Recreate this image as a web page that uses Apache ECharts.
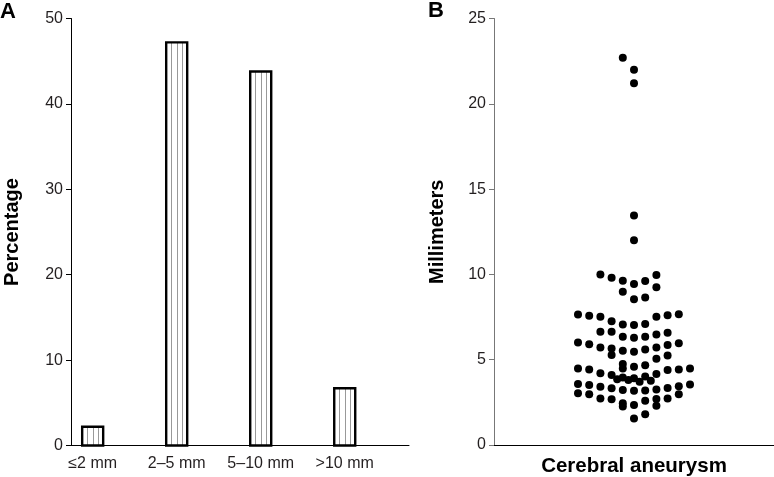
<!DOCTYPE html>
<html>
<head>
<meta charset="utf-8">
<script src="https://cdn.jsdelivr.net/npm/echarts@6/dist/echarts.min.js"></script>
<style>
html,body{margin:0;padding:0;background:#fff;}
#chart{width:774px;height:477px;}
</style>
</head>
<body>
<div id="chart"></div>
<script>
// Panel A: size-category distribution (percentage)
var sizeCategories = ['\u22642 mm', '2\u20135 mm', '5\u201310 mm', '>10 mm'];
var percentages = [2.2, 47.2, 43.8, 6.7];
var percentTicks = [0, 10, 20, 30, 40, 50];

// Panel B: individual aneurysm sizes (mm) with beeswarm column offsets
var swarmOffsets = [
  -1, 0, 0, 0, 0,
  -3, -2, -1, 0, 1, 2, 2, -1, 0, 1,
  -5, -4, -3, -2, -1, 0, 1, 2, 3, 4,
  -3, -2, -1, 0, 1, 2, 3,
  -5, -4, -3, -2, -2, -1, 0, 1, 2, 2, 3, 3, 4,
  -5, -4, -3, -2, -1, -1, 0, 1, 2, 3, 4, 5,
  -1.5, -1, -0.5, 0, 0.5, 1, 1.5,
  -5, -4, -3, -2, -1, 0, 1, 2, 3, 4, 5,
  -5, -4, -3, -2, -1, -1, 0, 1, 2, 2, 3, 4,
  0, 1
];
var sizesMm = [
  22.7, 22.0, 21.2, 13.45, 12.0,
  10.0, 9.8, 9.63, 9.43, 9.61, 9.96, 9.24, 8.98, 8.55, 8.65,
  7.65, 7.58, 7.52, 7.26, 7.07, 7.03, 7.09, 7.52, 7.61, 7.67,
  6.64, 6.64, 6.35, 6.29, 6.35, 6.48, 6.58,
  6.01, 5.90, 5.72, 5.66, 5.27, 5.53, 5.47, 5.60, 5.72, 5.06, 5.86, 5.25, 5.96,
  4.49, 4.43, 4.20, 4.10, 4.75, 4.49, 4.59, 4.67, 4.16, 4.39, 4.43, 4.49,
  3.85, 3.96, 3.81, 3.91, 3.71, 4.02, 3.77,
  3.57, 3.51, 3.42, 3.32, 3.22, 3.18, 3.20, 3.26, 3.34, 3.44, 3.55,
  3.03, 2.97, 2.73, 2.68, 2.44, 2.25, 2.34, 2.60, 2.69, 2.30, 2.73, 2.97,
  1.56, 1.80
];
var mmTicks = [0, 5, 10, 15, 20, 25];

var barData = percentages.map(function (v, i) { return [i, v]; });
var dotData = sizesMm.map(function (v, i) { return [swarmOffsets[i], v]; });

var textColor = '#231f20';
var fontFam = '"Liberation Sans", Arial, sans-serif';

var chart = echarts.init(document.getElementById('chart'), null, {renderer: 'canvas'});
chart.setOption({
  animation: false,
  backgroundColor: '#fff',
  textStyle: {fontFamily: fontFam},
  graphic: [
    {type: 'text', left: 0, top: 1, style: {text: 'A', font: 'bold 22px ' + fontFam, fill: '#000'}},
    {type: 'text', left: 428, top: 0, style: {text: 'B', font: 'bold 22px ' + fontFam, fill: '#000'}}
  ],
  grid: [
    {left: 71, right: 365, top: 18.5, bottom: 31.5, outerBoundsMode: 'none', containLabel: false},
    {left: 494, right: 0, top: 18.5, bottom: 32, outerBoundsMode: 'none', containLabel: false}
  ],
  xAxis: [
    {
      gridIndex: 0, type: 'value', min: -0.258, max: 3.765,
      splitLine: {show: false},
      axisLine: {show: true, onZero: false, lineStyle: {color: '#000', width: 1}},
      axisTick: {show: false},
      axisLabel: {
        customValues: [0, 1, 2, 3],
        formatter: function (v) { return sizeCategories[Math.round(v)]; },
        color: textColor, fontSize: 16, margin: 10, fontFamily: fontFam
      }
    },
    {
      gridIndex: 1, type: 'value', min: -12.5, max: 12.5,
      splitLine: {show: false},
      axisLine: {show: true, onZero: false, lineStyle: {color: '#000', width: 1}},
      axisTick: {show: false},
      axisLabel: {show: false},
      name: 'Cerebral aneurysm', nameLocation: 'middle', nameGap: 11,
      nameTextStyle: {fontSize: 20.5, fontWeight: 'bold', color: '#000', fontFamily: fontFam, verticalAlign: 'top'}
    }
  ],
  yAxis: [
    {
      gridIndex: 0, type: 'value', min: 0, max: 50, interval: 10,
      splitLine: {show: false},
      axisLine: {show: true, onZero: false, lineStyle: {color: '#000', width: 1}},
      axisTick: {show: true, length: 5, lineStyle: {color: '#000'}},
      axisLabel: {
        customValues: percentTicks,
        color: textColor, fontSize: 16, margin: 8, fontFamily: fontFam
      },
      name: 'Percentage', nameLocation: 'middle', nameGap: 49,
      nameTextStyle: {fontSize: 20, fontWeight: 'bold', color: '#000', fontFamily: fontFam}
    },
    {
      gridIndex: 1, type: 'value', min: 0, max: 25, interval: 5,
      splitLine: {show: false},
      axisLine: {show: true, onZero: false, lineStyle: {color: '#777', width: 1}},
      axisTick: {show: true, length: 5, lineStyle: {color: '#777'}},
      axisLabel: {
        customValues: mmTicks,
        color: textColor, fontSize: 16, margin: 8, fontFamily: fontFam
      },
      name: 'Millimeters', nameLocation: 'middle', nameGap: 47,
      nameTextStyle: {fontSize: 20, fontWeight: 'bold', color: '#000', fontFamily: fontFam}
    }
  ],
  series: [
    {
      type: 'custom', xAxisIndex: 0, yAxisIndex: 0,
      data: barData,
      renderItem: function (params, api) {
        var base = api.coord([api.value(0), 0]);
        var top = api.coord([api.value(0), api.value(1)]);
        var w = 21;
        var x0 = base[0] - w / 2;
        var children = [];
        for (var k = 1; k <= 3; k++) {
          var lx = Math.round(x0 + w * k / 4) + 0.5;
          children.push({
            type: 'line',
            shape: {x1: lx, y1: top[1], x2: lx, y2: base[1]},
            style: {stroke: '#999', lineWidth: 1}
          });
        }
        children.push({
          type: 'rect',
          shape: {x: x0, y: top[1], width: w, height: base[1] - top[1]},
          style: {fill: null, stroke: '#000', lineWidth: 2.4}
        });
        return {type: 'group', children: children};
      },
      z: 3
    },
    {
      type: 'scatter', xAxisIndex: 1, yAxisIndex: 1,
      data: dotData,
      symbol: 'circle', symbolSize: 8,
      itemStyle: {color: '#000', opacity: 1},
      z: 3
    }
  ]
});
</script>
</body>
</html>
